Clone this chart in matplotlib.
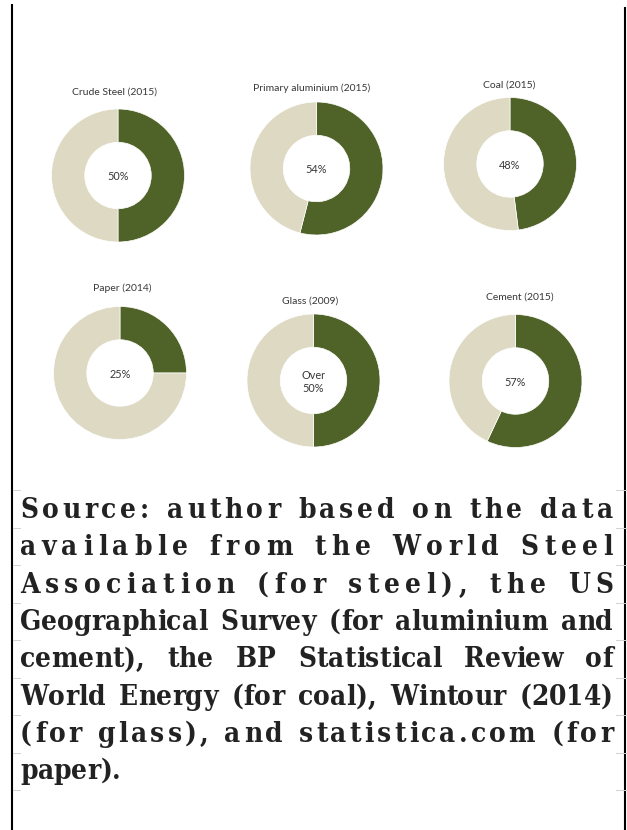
import matplotlib
matplotlib.use('Agg')
import matplotlib.pyplot as plt
from matplotlib.font_manager import FontProperties, findfont
from matplotlib.ft2font import FT2Font

# donut data
titles = ['Crude Steel (2015)', 'Primary aluminium (2015)', 'Coal (2015)',
          'Paper (2014)', 'Glass (2009)', 'Cement (2015)']
shares = [50, 54, 48, 25, 50, 57]
labels = ['50%', '54%', '48%', '25%', 'Over\n50%', '57%']

source_lines = [
    'Source: author based on the data',
    'available from the World Steel',
    'Association (for steel), the US',
    'Geographical Survey (for aluminium and',
    'cement), the BP Statistical Review of',
    'World Energy (for coal), Wintour (2014)',
    '(for glass), and statistica.com (for',
    'paper).',
]

W, H = 627, 830
green = '#4f6228'
beige = '#ddd9c3'

# layout in pixels (from top-left)
centers = [(118, 175.5), (316.5, 168.5), (510, 164),
           (120, 373), (313.5, 380.5), (515.5, 381)]
title_xy = [(114, 92), (312, 88), (509, 85),
            (122, 288), (310, 301), (520, 297)]
R = 66.5

fig = plt.figure(figsize=(W / 100, H / 100), dpi=100)
fig.patch.set_facecolor('white')

ax0 = fig.add_axes([0, 0, 1, 1])
ax0.set_xlim(0, W)
ax0.set_ylim(H, 0)
ax0.axis('off')

# frame lines and little grey ticks
ax0.plot([12, 12], [4, H], color='black', lw=1.5, solid_capstyle='butt')
ax0.plot([625, 625], [7, H], color='black', lw=1.5, solid_capstyle='butt')
for k in range(9):
    y = 490 + 37.5 * k
    ax0.plot([13, 20], [y, y], color='#d2d2d2', lw=0.7)
    ax0.plot([616, 627], [y, y], color='#d2d2d2', lw=0.7)

for i in range(6):
    cx, cy = centers[i]
    ax = fig.add_axes([(cx - R) / W, 1 - (cy + R) / H, 2 * R / W, 2 * R / H])
    ax.pie([shares[i], 100 - shares[i]], colors=[green, beige],
           startangle=90, counterclock=False, radius=1,
           wedgeprops=dict(width=0.5, edgecolor='white', linewidth=0.5))
    ax.set_aspect('auto')
    ax.set_xlim(-1, 1)
    ax.set_ylim(-1, 1)
    ax.axis('off')
    ax.text(0, -0.02, labels[i], ha='center', va='center', family='Lato',
            fontsize=7.8, color='#383838', linespacing=1.2)
    tx, ty = title_xy[i]
    ax0.text(tx, ty, titles[i], ha='center', va='center', family='Lato',
             fontsize=7.5, color='#383838')

# justified source text, placed glyph by glyph
prop = FontProperties(family='DejaVu Serif', weight='bold',
                      stretch='condensed', size=20.5)
font_path = findfont(prop)

def glyph_advances(s, size):
    ft = FT2Font(font_path)
    ft.set_size(size, 100)
    return [ft.load_char(ord(c)).linearHoriAdvance / 65536 for c in s]

x_left, x_right = 20, 613
target = x_right - x_left
size = prop.get_size_in_points()
nat_max = max(sum(glyph_advances(s, size)) for s in source_lines[:-1])
if nat_max > 0.97 * target:
    size = size * 0.97 * target / nat_max
prop.set_size(size)
space = glyph_advances(' ', size)[0]

baseline0, step = 518, 37.3
for i, line in enumerate(source_lines):
    adv = glyph_advances(line, size)
    extra = target - sum(adv)
    n_sp = line.count(' ')
    gaps = [0.0] * len(line)
    if i < len(source_lines) - 1:
        if extra / n_sp > 2 * space:
            # wide line: spread over every character gap, a bit more at spaces
            per = extra / (len(line) - 1 + 0.5 * n_sp)
            gaps = [per * 1.5 if c == ' ' else per for c in line]
        else:
            per = extra / n_sp
            gaps = [per if c == ' ' else 0.0 for c in line]
    x = x_left
    yb = baseline0 + step * i
    for c, a, g in zip(line, adv, gaps):
        if c != ' ':
            ax0.text(x, yb, c, fontproperties=prop, color='#222222',
                     ha='left', va='baseline')
        x += a + g

fig.savefig('out.png', dpi=100)
